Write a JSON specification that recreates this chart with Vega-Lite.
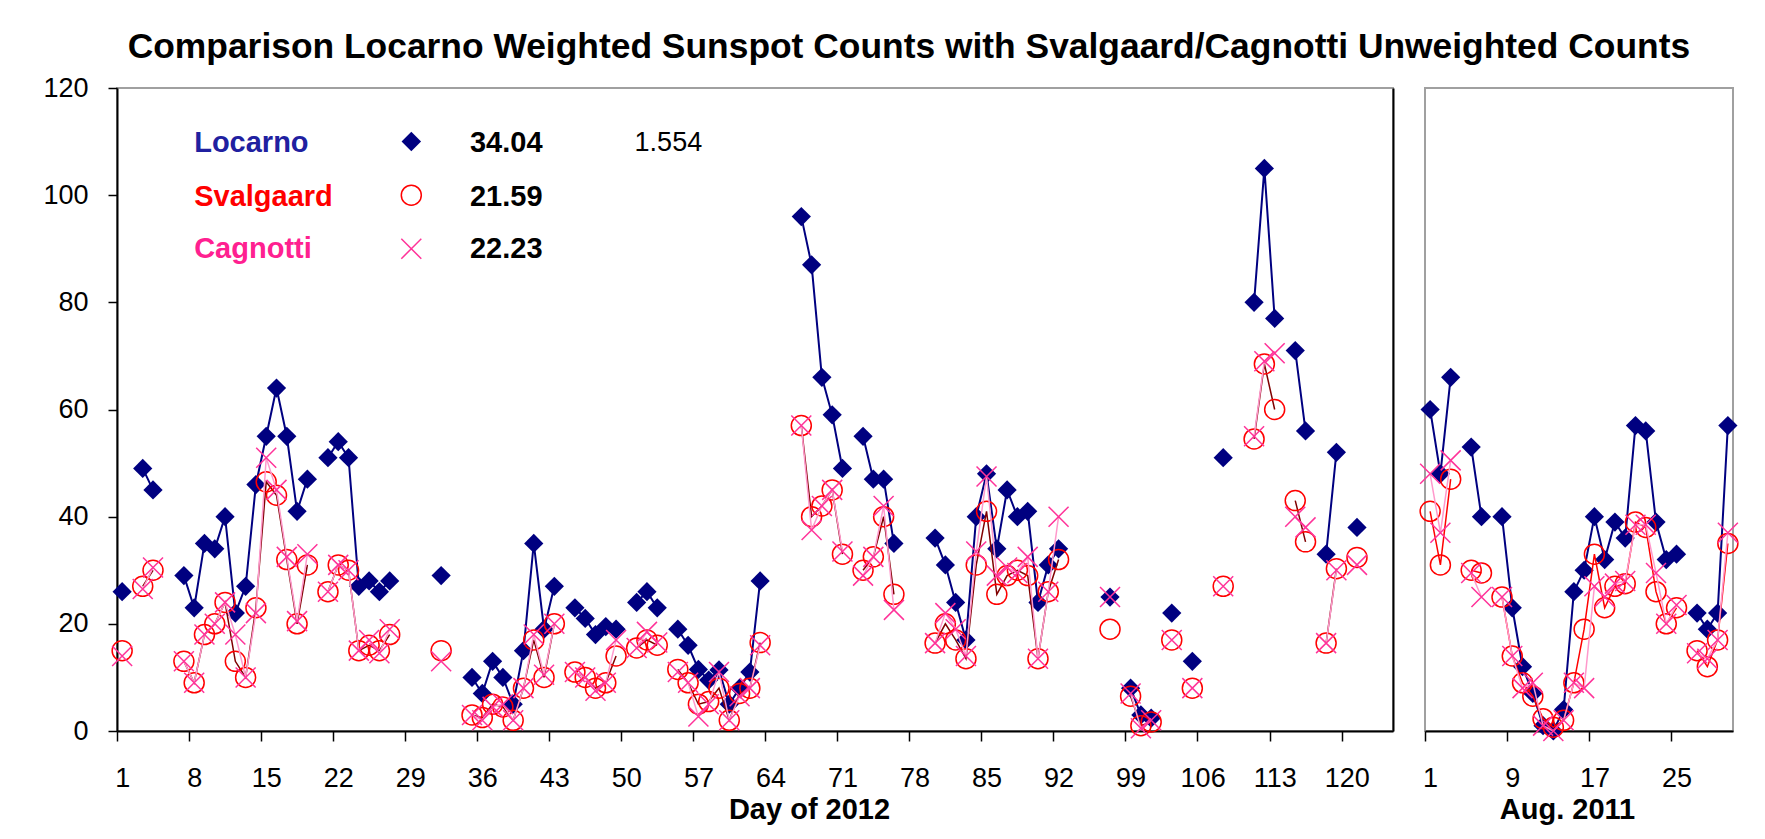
{
  "$schema": "https://vega.github.io/schema/vega-lite/v6.json",
  "background": "white",
  "padding": {"left": 41, "top": 29, "right": 5, "bottom": 5},
  "title": {"text": "Comparison Locarno Weighted Sunspot Counts with Svalgaard/Cagnotti Unweighted Counts", "font": "Liberation Sans", "fontSize": 35.4, "fontWeight": "bold", "color": "#000000", "anchor": "middle", "offset": 8, "dx": 17},
  "datasets": {
    "left": [
      {"d":1,"loc":26,"sva":15,"cag":14},{"d":2,"loc":null,"sva":null,"cag":null},
      {"d":3,"loc":49,"sva":27,"cag":26.5},{"d":4,"loc":45,"sva":30,"cag":30.5},{"d":5,"loc":null,"sva":null,"cag":null},
      {"d":7,"loc":29,"sva":13,"cag":13},{"d":8,"loc":23,"sva":9,"cag":9},{"d":9,"loc":35,"sva":18,"cag":18},
      {"d":10,"loc":34,"sva":20,"cag":20},{"d":11,"loc":40,"sva":24,"cag":24},{"d":12,"loc":22,"sva":13,"cag":18},
      {"d":13,"loc":27,"sva":10,"cag":10},{"d":14,"loc":46,"sva":23,"cag":22},{"d":15,"loc":55,"sva":46.5,"cag":51},
      {"d":16,"loc":64,"sva":44,"cag":45},{"d":17,"loc":55,"sva":32,"cag":32.5},{"d":18,"loc":41,"sva":20,"cag":20.5},
      {"d":19,"loc":47,"sva":31,"cag":33},{"d":20,"loc":null,"sva":null,"cag":null},
      {"d":21,"loc":51,"sva":26,"cag":26},{"d":22,"loc":54,"sva":31,"cag":31},{"d":23,"loc":51,"sva":30,"cag":30},
      {"d":24,"loc":27,"sva":15,"cag":15},{"d":25,"loc":28,"sva":16,"cag":17},{"d":26,"loc":26,"sva":15,"cag":14.5},
      {"d":27,"loc":28,"sva":18,"cag":19},{"d":28,"loc":null,"sva":null,"cag":null},
      {"d":32,"loc":29,"sva":15,"cag":13},{"d":33,"loc":null,"sva":null,"cag":null},
      {"d":35,"loc":10,"sva":3,"cag":3},{"d":36,"loc":7,"sva":2.5,"cag":2},{"d":37,"loc":13,"sva":5,"cag":4.5},
      {"d":38,"loc":10,"sva":4.5,"cag":5},{"d":39,"loc":5,"sva":2,"cag":2},{"d":40,"loc":15,"sva":8,"cag":8},
      {"d":41,"loc":35,"sva":17,"cag":18},{"d":42,"loc":19,"sva":10,"cag":10.5},{"d":43,"loc":27,"sva":20,"cag":20},
      {"d":44,"loc":null,"sva":null,"cag":null},
      {"d":45,"loc":23,"sva":11,"cag":11},{"d":46,"loc":21,"sva":10,"cag":10},{"d":47,"loc":18,"sva":8,"cag":7.5},
      {"d":48,"loc":19.5,"sva":9,"cag":9},{"d":49,"loc":19,"sva":14,"cag":17},{"d":50,"loc":null,"sva":null,"cag":null},
      {"d":51,"loc":24,"sva":15.5,"cag":15.5},{"d":52,"loc":26,"sva":17,"cag":18.5},{"d":53,"loc":23,"sva":16,"cag":16.5},
      {"d":54,"loc":null,"sva":null,"cag":null},
      {"d":55,"loc":19,"sva":11.5,"cag":11},{"d":56,"loc":16,"sva":9,"cag":9},{"d":57,"loc":11.5,"sva":5,"cag":2.7},
      {"d":58,"loc":9.5,"sva":5.5,"cag":5},{"d":59,"loc":11.4,"sva":8,"cag":11},{"d":60,"loc":5,"sva":2,"cag":2},
      {"d":61,"loc":8,"sva":7,"cag":6.5},{"d":62,"loc":11,"sva":8,"cag":8},{"d":63,"loc":28,"sva":16.5,"cag":16},
      {"d":64,"loc":null,"sva":null,"cag":null},
      {"d":67,"loc":96,"sva":57,"cag":57},{"d":68,"loc":87,"sva":40,"cag":37.5},{"d":69,"loc":66,"sva":42,"cag":42},
      {"d":70,"loc":59,"sva":45,"cag":45},{"d":71,"loc":49,"sva":33,"cag":33.5},{"d":72,"loc":null,"sva":null,"cag":null},
      {"d":73,"loc":55,"sva":30,"cag":29},{"d":74,"loc":47,"sva":32.5,"cag":32.5},{"d":75,"loc":47,"sva":40,"cag":42},
      {"d":76,"loc":35,"sva":25.5,"cag":22.6},{"d":77,"loc":null,"sva":null,"cag":null},
      {"d":80,"loc":36,"sva":16.4,"cag":16.4},{"d":81,"loc":31,"sva":20,"cag":22},{"d":82,"loc":24,"sva":17,"cag":19},
      {"d":83,"loc":17,"sva":13.5,"cag":14},{"d":84,"loc":40,"sva":31,"cag":33.5},{"d":85,"loc":48,"sva":41,"cag":47.5},
      {"d":86,"loc":34,"sva":25.5,"cag":29},{"d":87,"loc":45,"sva":29,"cag":30.5},{"d":88,"loc":40,"sva":30,"cag":29.5},
      {"d":89,"loc":41,"sva":29,"cag":32.5},{"d":90,"loc":24,"sva":13.5,"cag":13.5},{"d":91,"loc":31,"sva":26,"cag":26},
      {"d":92,"loc":34,"sva":32,"cag":40},{"d":93,"loc":null,"sva":null,"cag":null},
      {"d":97,"loc":25,"sva":19,"cag":25},{"d":98,"loc":null,"sva":null,"cag":null},
      {"d":99,"loc":8,"sva":6.5,"cag":7},{"d":100,"loc":3,"sva":1,"cag":0.5},{"d":101,"loc":2.4,"sva":1.7,"cag":2},
      {"d":102,"loc":null,"sva":null,"cag":null},
      {"d":103,"loc":22,"sva":17,"cag":17},{"d":104,"loc":null,"sva":null,"cag":null},
      {"d":105,"loc":13,"sva":8,"cag":8},{"d":106,"loc":null,"sva":null,"cag":null},
      {"d":108,"loc":51,"sva":27,"cag":27},{"d":109,"loc":null,"sva":null,"cag":null},
      {"d":111,"loc":80,"sva":54.5,"cag":55},{"d":112,"loc":105,"sva":68.5,"cag":69},{"d":113,"loc":77,"sva":60,"cag":70.5},
      {"d":114,"loc":null,"sva":null,"cag":null},
      {"d":115,"loc":71,"sva":43,"cag":40},{"d":116,"loc":56,"sva":35.3,"cag":38},{"d":117,"loc":null,"sva":null,"cag":null},
      {"d":118,"loc":33,"sva":16.4,"cag":16.4},{"d":119,"loc":52,"sva":30.3,"cag":30},{"d":120,"loc":null,"sva":null,"cag":null},
      {"d":121,"loc":38,"sva":32.4,"cag":31}
    ],
    "right": [
      {"d":1,"loc":60,"sva":41,"cag":48},{"d":2,"loc":48,"sva":31,"cag":37},{"d":3,"loc":66,"sva":47,"cag":50.5},
      {"d":4,"loc":null,"sva":null,"cag":null},
      {"d":5,"loc":53,"sva":30,"cag":29.5},{"d":6,"loc":40,"sva":29.5,"cag":25},{"d":7,"loc":null,"sva":null,"cag":null},
      {"d":8,"loc":40,"sva":25,"cag":25},{"d":9,"loc":23,"sva":14,"cag":14},{"d":10,"loc":12,"sva":9,"cag":8},
      {"d":11,"loc":7,"sva":6.5,"cag":9},{"d":12,"loc":1,"sva":2.3,"cag":1},{"d":13,"loc":0,"sva":0.7,"cag":0},
      {"d":14,"loc":4,"sva":2,"cag":2},{"d":15,"loc":26,"sva":9,"cag":9},{"d":16,"loc":30,"sva":19,"cag":8},
      {"d":17,"loc":40,"sva":33,"cag":27},{"d":18,"loc":32,"sva":23,"cag":25},{"d":19,"loc":39,"sva":27,"cag":27.5},
      {"d":20,"loc":36,"sva":27.5,"cag":28},{"d":21,"loc":57,"sva":39,"cag":38.5},{"d":22,"loc":56,"sva":38,"cag":38.5},
      {"d":23,"loc":39,"sva":26,"cag":29.5},{"d":24,"loc":32,"sva":20,"cag":20},{"d":25,"loc":33,"sva":23,"cag":23.5},
      {"d":26,"loc":null,"sva":null,"cag":null},
      {"d":27,"loc":22,"sva":15,"cag":14.5},{"d":28,"loc":19,"sva":12,"cag":13.5},{"d":29,"loc":22,"sva":17,"cag":17},
      {"d":30,"loc":57,"sva":35,"cag":37}
    ]
  },
  "spacing": 22,
  "hconcat": [
    {
      "width": 1276,
      "height": 643,
      "data": {"name": "left"},
      "layer": [
        {"mark": {"type": "line", "color": "#000080", "strokeWidth": 2, "invalid": "break-paths-filter-domains"},
         "encoding": {
           "x": {"field": "d", "type": "quantitative",
             "scale": {"domain": [0.5, 124.5], "nice": false, "zero": false},
             "axis": {"values": [1,8,15,22,29,36,43,50,57,64,71,78,85,92,99,106,113,120], "tickOffset": -5.14, "labelOffset": 5.14, "tickSize": 10, "labelPadding": 24, "title": "Day of 2012", "titleX": 692, "titlePadding": 4}},
           "y": {"field": "loc", "type": "quantitative", "scale": {"domain": [0, 120], "nice": false},
             "axis": {"values": [0,20,40,60,80,100,120], "title": null, "tickSize": 9, "labelPadding": 20}}}},
        {"mark": {"type": "point", "shape": "diamond", "filled": true, "color": "#000080", "size": 370, "opacity": 1},
         "encoding": {"x": {"field": "d", "type": "quantitative"}, "y": {"field": "loc", "type": "quantitative", "axis": null}}},
        {"mark": {"type": "line", "color": "#800000", "strokeWidth": 1.5, "invalid": "break-paths-filter-domains"},
         "encoding": {"x": {"field": "d", "type": "quantitative"}, "y": {"field": "sva", "type": "quantitative", "axis": null}}},
        {"mark": {"type": "point", "shape": "circle", "filled": false, "color": "#FF0000", "size": 400, "strokeWidth": 1.5, "opacity": 1},
         "encoding": {"x": {"field": "d", "type": "quantitative"}, "y": {"field": "sva", "type": "quantitative", "axis": null}}},
        {"mark": {"type": "line", "color": "#FF99CC", "strokeWidth": 1.5, "invalid": "break-paths-filter-domains"},
         "encoding": {"x": {"field": "d", "type": "quantitative"}, "y": {"field": "cag", "type": "quantitative", "axis": null}}},
        {"mark": {"type": "point", "shape": "M-1,-1L1,1M-1,1L1,-1", "filled": false, "color": "#FF3399", "size": 400, "strokeWidth": 1.5, "opacity": 1},
         "encoding": {"x": {"field": "d", "type": "quantitative"}, "y": {"field": "cag", "type": "quantitative", "axis": null}}},
        {"mark": {"type": "rule", "opacity": 0},
         "encoding": {"y": {"datum": 0, "type": "quantitative", "axis": {"orient": "right", "ticks": false, "labels": false, "title": null, "domainColor": "#000000", "domainWidth": 2, "minExtent": 0, "maxExtent": 0}}}},
        {"data": {"values": [{"series": "Locarno"}]},
         "mark": {"type": "text", "align": "left", "baseline": "middle", "font": "Liberation Sans", "fontWeight": "bold", "fontSize": 29, "color": "#2020A0"},
         "encoding": {"x": {"datum": 8.0, "type": "quantitative"}, "y": {"datum": 109.7, "type": "quantitative", "axis": null}, "text": {"field": "series", "type": "nominal"}}},
        {"data": {"values": [{"series": "Svalgaard"}]},
         "mark": {"type": "text", "align": "left", "baseline": "middle", "font": "Liberation Sans", "fontWeight": "bold", "fontSize": 29, "color": "#FF0000"},
         "encoding": {"x": {"datum": 8.0, "type": "quantitative"}, "y": {"datum": 99.7, "type": "quantitative", "axis": null}, "text": {"field": "series", "type": "nominal"}}},
        {"data": {"values": [{"series": "Cagnotti"}]},
         "mark": {"type": "text", "align": "left", "baseline": "middle", "font": "Liberation Sans", "fontWeight": "bold", "fontSize": 29, "color": "#FF2090"},
         "encoding": {"x": {"datum": 8.0, "type": "quantitative"}, "y": {"datum": 90, "type": "quantitative", "axis": null}, "text": {"field": "series", "type": "nominal"}}},
        {"data": {"values": [{"mean": "34.04"}]},
         "mark": {"type": "text", "align": "left", "baseline": "middle", "font": "Liberation Sans", "fontWeight": "bold", "fontSize": 29, "color": "#000000"},
         "encoding": {"x": {"datum": 34.8, "type": "quantitative"}, "y": {"datum": 109.7, "type": "quantitative", "axis": null}, "text": {"field": "mean", "type": "nominal"}}},
        {"data": {"values": [{"mean": "21.59"}]},
         "mark": {"type": "text", "align": "left", "baseline": "middle", "font": "Liberation Sans", "fontWeight": "bold", "fontSize": 29, "color": "#000000"},
         "encoding": {"x": {"datum": 34.8, "type": "quantitative"}, "y": {"datum": 99.7, "type": "quantitative", "axis": null}, "text": {"field": "mean", "type": "nominal"}}},
        {"data": {"values": [{"mean": "22.23"}]},
         "mark": {"type": "text", "align": "left", "baseline": "middle", "font": "Liberation Sans", "fontWeight": "bold", "fontSize": 29, "color": "#000000"},
         "encoding": {"x": {"datum": 34.8, "type": "quantitative"}, "y": {"datum": 90, "type": "quantitative", "axis": null}, "text": {"field": "mean", "type": "nominal"}}},
        {"data": {"values": [{"ratio": "1.554"}]},
         "mark": {"type": "text", "align": "left", "baseline": "middle", "font": "Liberation Sans", "fontSize": 27, "color": "#000000"},
         "encoding": {"x": {"datum": 50.8, "type": "quantitative"}, "y": {"datum": 109.7, "type": "quantitative", "axis": null}, "text": {"field": "ratio", "type": "nominal"}}},
        {"data": {"values": [{"series": "Locarno"}]},
         "mark": {"type": "point", "shape": "diamond", "filled": true, "color": "#000080", "size": 380, "opacity": 1},
         "encoding": {"x": {"datum": 29.1, "type": "quantitative"}, "y": {"datum": 110, "type": "quantitative", "axis": null}}},
        {"data": {"values": [{"series": "Svalgaard"}]},
         "mark": {"type": "point", "shape": "circle", "filled": false, "color": "#FF0000", "size": 400, "strokeWidth": 1.5, "opacity": 1},
         "encoding": {"x": {"datum": 29.1, "type": "quantitative"}, "y": {"datum": 100, "type": "quantitative", "axis": null}}},
        {"data": {"values": [{"series": "Cagnotti"}]},
         "mark": {"type": "point", "shape": "M-1,-1L1,1M-1,1L1,-1", "filled": false, "color": "#FF3399", "size": 400, "strokeWidth": 1.5, "opacity": 1},
         "encoding": {"x": {"datum": 29.1, "type": "quantitative"}, "y": {"datum": 90, "type": "quantitative", "axis": null}}}
      ],
      "resolve": {"axis": {"y": "independent"}}
    },
    {
      "width": 308,
      "height": 643,
      "data": {"name": "right"},
      "encoding": {
        "x": {"field": "d", "type": "quantitative",
          "scale": {"domain": [0.5, 30.5], "nice": false, "zero": false},
          "axis": {"values": [1,9,17,25], "tickOffset": -5.13, "labelOffset": 5.13, "tickSize": 10, "labelPadding": 24, "title": "Aug. 2011", "titleX": 142, "titlePadding": 4}}
      },
      "layer": [
        {"mark": {"type": "line", "color": "#000080", "strokeWidth": 2, "invalid": "break-paths-filter-domains"},
         "encoding": {"y": {"field": "loc", "type": "quantitative", "scale": {"domain": [0, 120], "nice": false}, "axis": null}}},
        {"mark": {"type": "point", "shape": "diamond", "filled": true, "color": "#000080", "size": 370, "opacity": 1},
         "encoding": {"y": {"field": "loc", "type": "quantitative", "axis": null}}},
        {"mark": {"type": "line", "color": "#FF0000", "strokeWidth": 1.5, "invalid": "break-paths-filter-domains"},
         "encoding": {"y": {"field": "sva", "type": "quantitative", "axis": null}}},
        {"mark": {"type": "point", "shape": "circle", "filled": false, "color": "#FF0000", "size": 400, "strokeWidth": 1.5, "opacity": 1},
         "encoding": {"y": {"field": "sva", "type": "quantitative", "axis": null}}},
        {"mark": {"type": "line", "color": "#FF99CC", "strokeWidth": 1.5, "invalid": "break-paths-filter-domains"},
         "encoding": {"y": {"field": "cag", "type": "quantitative", "axis": null}}},
        {"mark": {"type": "point", "shape": "M-1,-1L1,1M-1,1L1,-1", "filled": false, "color": "#FF3399", "size": 400, "strokeWidth": 1.5, "opacity": 1},
         "encoding": {"y": {"field": "cag", "type": "quantitative", "axis": null}}}
      ]
    }
  ],
  "config": {
    "view": {"stroke": "#A0A0A0", "strokeWidth": 2},
    "axis": {"grid": false, "domainColor": "#000000", "domainWidth": 2, "tickColor": "#000000", "tickWidth": 1.5,
      "labelFont": "Liberation Sans", "labelFontSize": 27, "labelColor": "#000000",
      "titleFont": "Liberation Sans", "titleFontSize": 29, "titleFontWeight": "bold", "titleColor": "#000000"},
    "text": {"font": "Liberation Sans"}
  }
}
